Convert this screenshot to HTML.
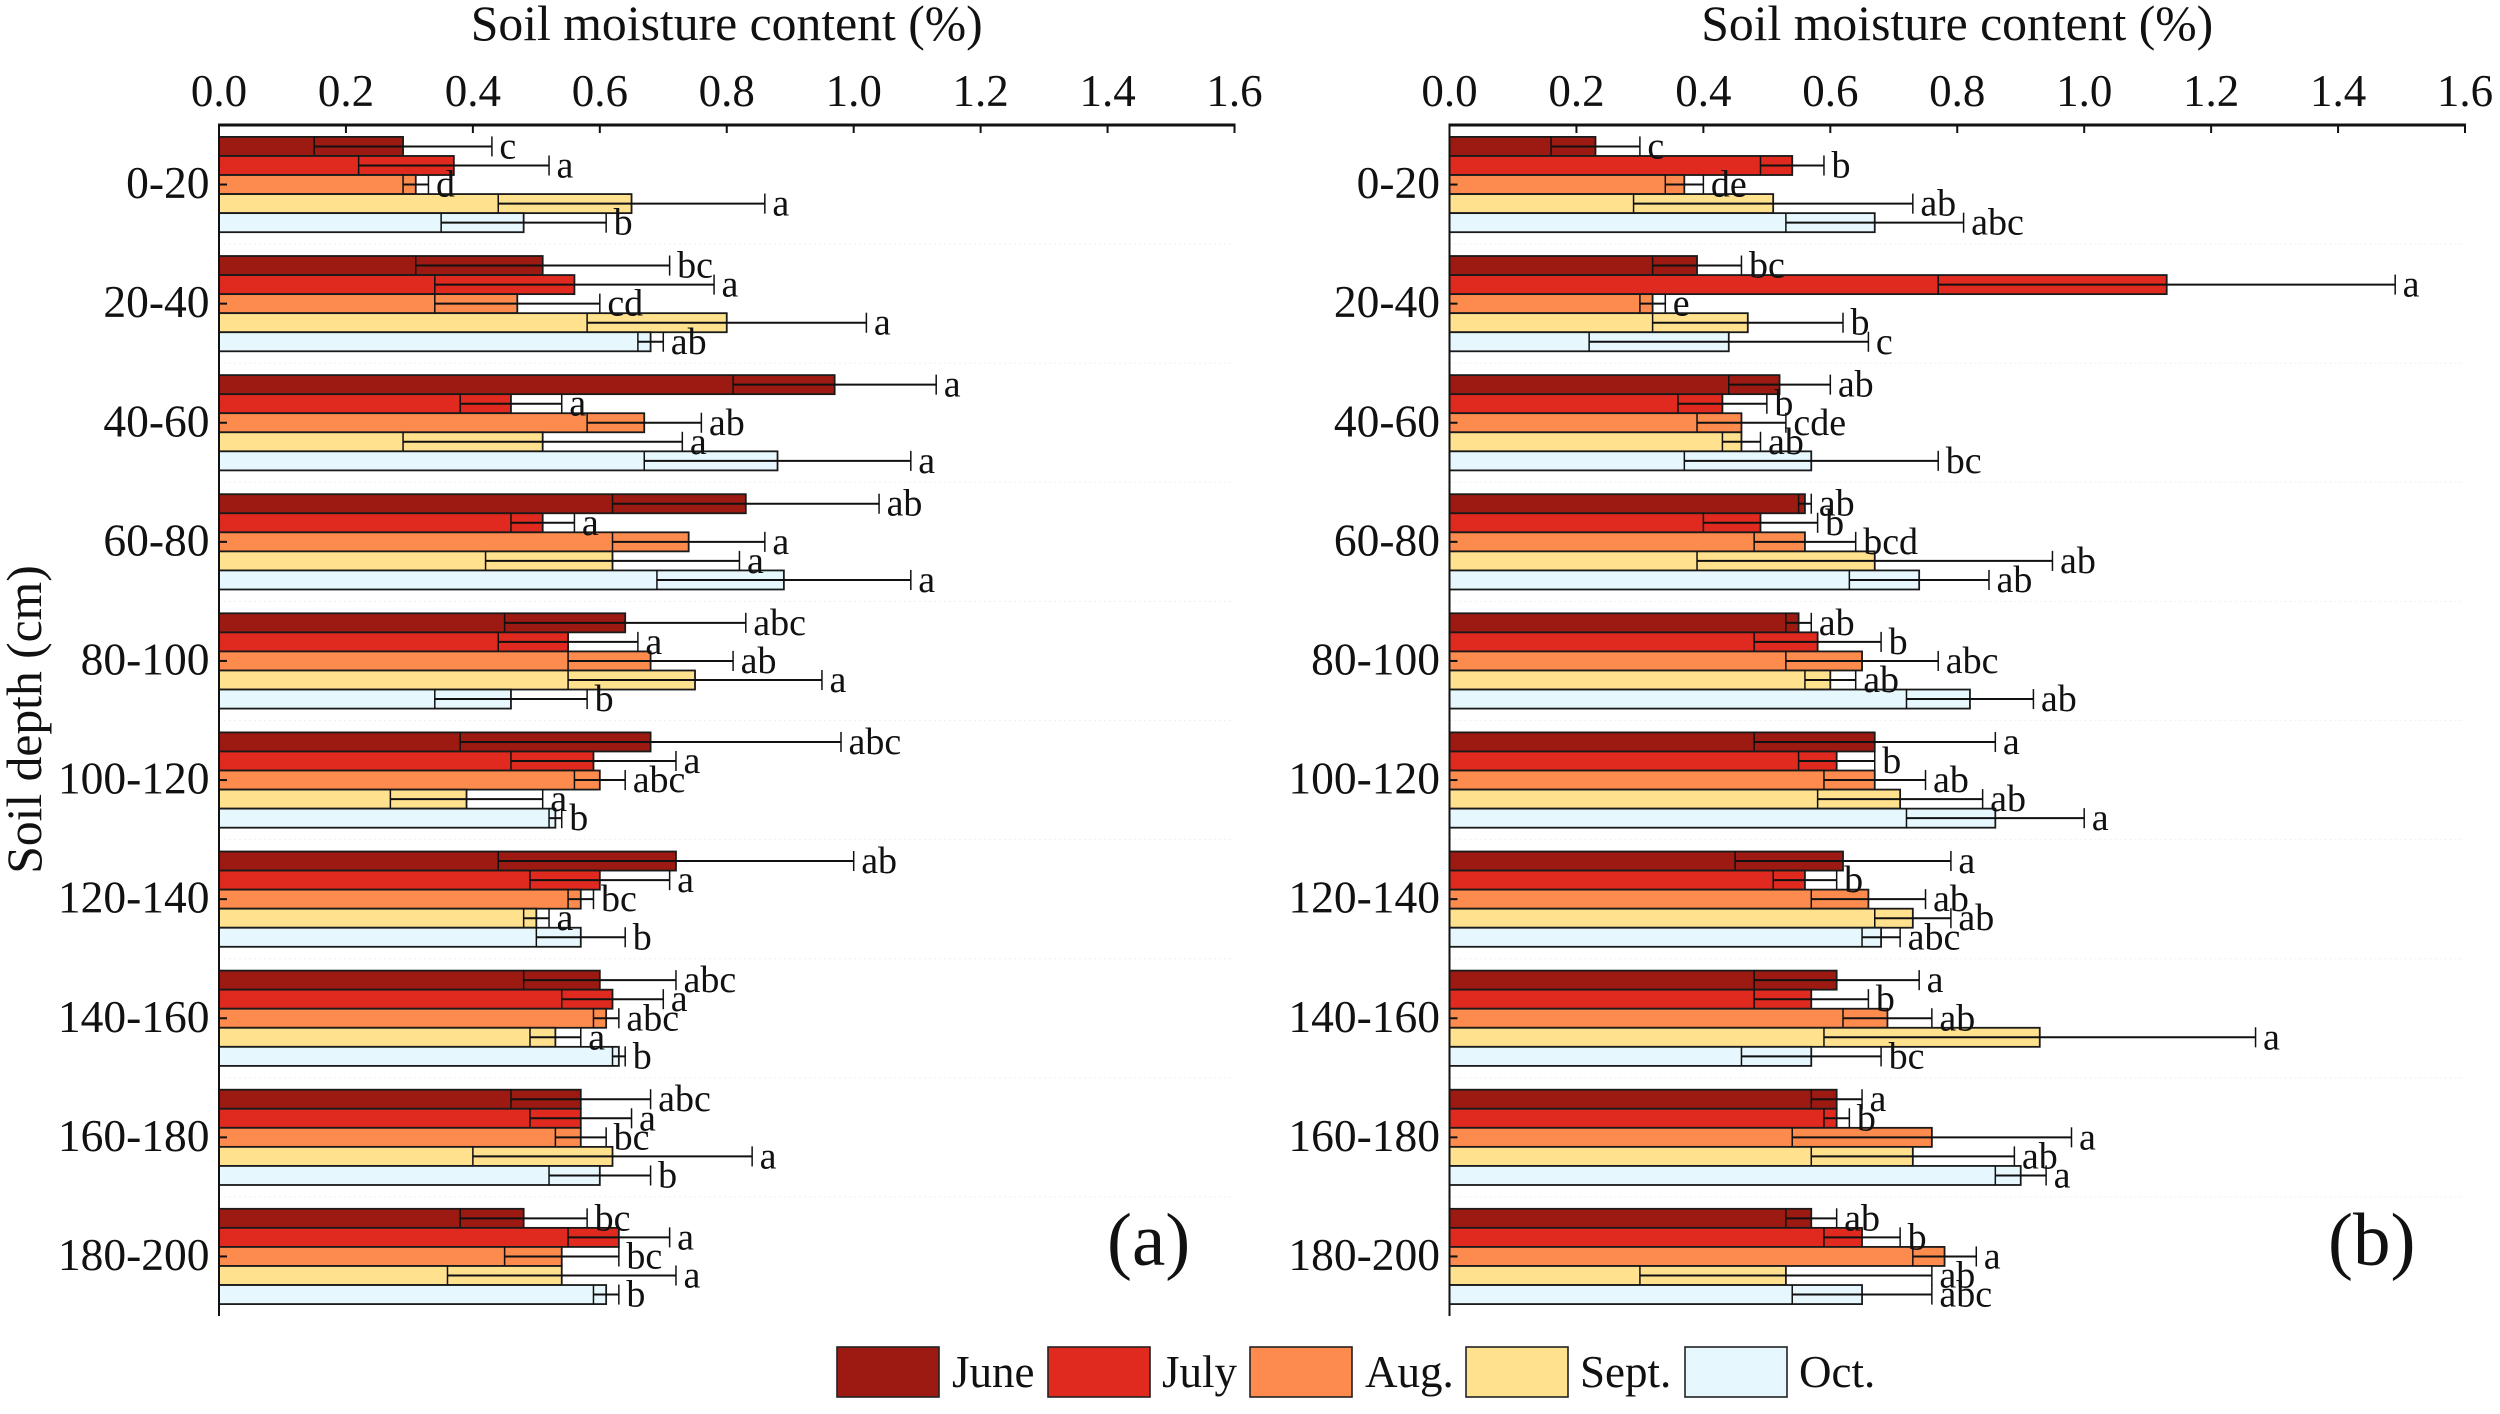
<!DOCTYPE html>
<html lang="en">
<head>
<meta charset="utf-8">
<title>Soil moisture content by depth</title>
<style>
html,body{margin:0;padding:0;background:#fff;}
svg{display:block;}
text{font-family:"Liberation Serif",serif;fill:#111;}
</style>
</head>
<body>
<svg id="chart" xmlns="http://www.w3.org/2000/svg" width="2500" height="1414" viewBox="0 0 2500 1414">
  <rect x="0" y="0" width="2500" height="1414" fill="#fff"/>
  <text transform="translate(41,719.5) rotate(-90)" text-anchor="middle" font-size="49.6">Soil depth (cm)</text>
  <text x="1107" y="1265" font-size="75">(a)</text>
  <text x="2328" y="1265" font-size="75">(b)</text>
</svg>
<script>
const depths = ["0-20","20-40","40-60","60-80","80-100","100-120","120-140","140-160","160-180","180-200"];
const months = ["June","July","Aug.","Sept.","Oct."];
const monthColors = ["#9c1a12","#e02a1f","#fd8b4e","#ffe18e","#e6f8fd"];
const xTicks = [0,0.2,0.4,0.6,0.8,1.0,1.2,1.4,1.6];

/* rows: depth, columns: June, July, Aug., Sept., Oct. */
const meansA = [
  [.29,.37,.31,.65,.48],[.51,.56,.47,.80,.68],[.97,.46,.67,.51,.88],[.83,.51,.74,.62,.89],[.64,.55,.68,.75,.46],
  [.68,.59,.60,.39,.53],[.72,.60,.57,.50,.57],[.60,.62,.61,.53,.63],[.57,.57,.57,.62,.60],[.48,.63,.54,.54,.61]
];
const errorsA = [
  [.14,.15,.02,.21,.13],[.20,.22,.13,.22,.02],[.16,.08,.09,.22,.21],[.21,.05,.12,.20,.20],[.19,.11,.13,.20,.12],
  [.30,.13,.04,.12,.01],[.28,.11,.02,.02,.07],[.12,.08,.02,.04,.01],[.11,.08,.04,.22,.08],[.10,.08,.09,.18,.02]
];
const lettersA = [
  ["c","a","d","a","b"],["bc","a","cd","a","ab"],["a","a","ab","a","a"],["ab","a","a","a","a"],["abc","a","ab","a","b"],
  ["abc","a","abc","a","b"],["ab","a","bc","a","b"],["abc","a","abc","a","b"],["abc","a","bc","a","b"],["bc","a","bc","a","b"]
];
const meansB = [
  [.23,.54,.37,.51,.67],[.39,1.13,.32,.47,.44],[.52,.43,.46,.46,.57],[.56,.49,.56,.67,.74],[.55,.58,.65,.60,.82],
  [.67,.61,.67,.71,.86],[.62,.56,.66,.73,.68],[.61,.57,.69,.93,.57],[.61,.61,.76,.73,.90],[.57,.65,.78,.53,.65]
];
const errorsB = [
  [.07,.05,.03,.22,.14],[.07,.36,.02,.15,.22],[.08,.07,.07,.03,.20],[.01,.09,.08,.28,.11],[.02,.10,.12,.04,.10],
  [.19,.06,.08,.13,.14],[.17,.05,.09,.06,.03],[.13,.09,.07,.34,.11],[.04,.02,.22,.16,.04],[.04,.06,.05,.23,.11]
];
const lettersB = [
  ["c","b","de","ab","abc"],["bc","a","e","b","c"],["ab","b","cde","ab","bc"],["ab","b","bcd","ab","ab"],["ab","b","abc","ab","ab"],
  ["a","b","ab","ab","a"],["a","b","ab","ab","abc"],["a","b","ab","a","bc"],["a","b","a","ab","a"],["ab","b","a","ab","abc"]
];

const svg = document.getElementById("chart");
const SVGNS = "http://www.w3.org/2000/svg";
const axisTop = 125, axisBottom = 1316, xMax = 1.6, panelWidth = 1015.5;
const band = (axisBottom - axisTop) / depths.length;
const barH = band * 0.8 / months.length;

function make(tag, parent, attrs, txt) {
  const n = document.createElementNS(SVGNS, tag);
  for (const k in attrs) n.setAttribute(k, attrs[k]);
  if (txt !== undefined) n.textContent = txt;
  parent.appendChild(n);
  return n;
}
function yBand(i) { return axisTop + band * i; }
function yRow(i, s) { return yBand(i) + band * 0.1 + barH * s; }

function drawPanel(key, x0, means, errors, letters) {
  const xs = v => x0 + v / xMax * panelWidth;
  const g = make("g", svg, {});
  
  

  for (let i = 1; i < depths.length; i++) {
    const gl = make("line", g, {x1:x0, x2:xs(xMax), y1:yBand(i), y2:yBand(i), stroke:"#f0f0f0", "stroke-width":1, "stroke-dasharray":"2 3"});
    
    
  }

  depths.forEach((d, i) => {
    months.forEach((m, s) => {
      const mean = means[i][s], err = errors[i][s];
      const top = yRow(i, s), mid = top + barH / 2;
      const bar = make("rect", g, {x:x0, y:top, width:xs(mean) - x0, height:barH, fill:monthColors[s], stroke:"#1a1a1a", "stroke-width":1.8});
      
      
      const lo = xs(mean - err), hi = xs(mean + err);
      const line = make("line", g, {x1:lo, x2:hi, y1:mid, y2:mid, stroke:"#111", "stroke-width":2});
      
      
      [lo, hi].forEach(cx => {
        const cap = make("line", g, {x1:cx, x2:cx, y1:top - 0.5, y2:top + barH + 0.5, stroke:"#111", "stroke-width":1.5});
        
        
      });
    });
  });

  depths.forEach((d, i) => {
    months.forEach((m, s) => {
      const mid = yRow(i, s) + barH / 2;
      const lab = make("text", g, {x:xs(means[i][s] + errors[i][s]) + 7.5, y:mid + 12, "font-size":38}, letters[i][s]);
      
      
    });
  });

  const topAxis = make("line", g, {x1:x0 - 1, x2:xs(xMax) + 1, y1:axisTop, y2:axisTop, stroke:"#111", "stroke-width":3});
  
  
  const leftAxis = make("line", g, {x1:x0, x2:x0, y1:axisTop, y2:axisBottom, stroke:"#111", "stroke-width":2});
  
  

  xTicks.forEach(t => {
    const tk = make("line", g, {x1:xs(t), x2:xs(t), y1:axisTop, y2:axisTop + 8, stroke:"#111", "stroke-width":2});
    
    
    const lb = make("text", g, {x:xs(t), y:106, "text-anchor":"middle", "font-size":45}, t.toFixed(1));
    
    
  });

  depths.forEach((d, i) => {
    const c = yBand(i) + band / 2;
    const tk = make("line", g, {x1:x0, x2:x0 + 8, y1:c, y2:c, stroke:"#111", "stroke-width":2});
    
    
    const lb = make("text", g, {x:x0 - 9.5, y:c + 13.5, "text-anchor":"end", "font-size":45.5}, d);
    
    
  });

  const title = make("text", g, {x:x0 + panelWidth / 2, y:40, "text-anchor":"middle", "font-size":49.7}, "Soil moisture content (%)");
  
  
}

drawPanel("a", 219, meansA, errorsA, lettersA);
drawPanel("b", 1449.5, meansB, errorsB, lettersB);

const legendBoxX = [837, 1048, 1250, 1466, 1685];
const legendTextX = [952, 1162, 1365, 1580, 1799];
const legend = make("g", svg, {});


months.forEach((m, s) => {
  const sw = make("rect", legend, {x:legendBoxX[s], y:1347, width:102, height:50, fill:monthColors[s], stroke:"#222", "stroke-width":1.6});
  
  
  const tx = make("text", legend, {x:legendTextX[s], y:1387, "font-size":45}, m);
  
  
});
</script>
</body>
</html>
